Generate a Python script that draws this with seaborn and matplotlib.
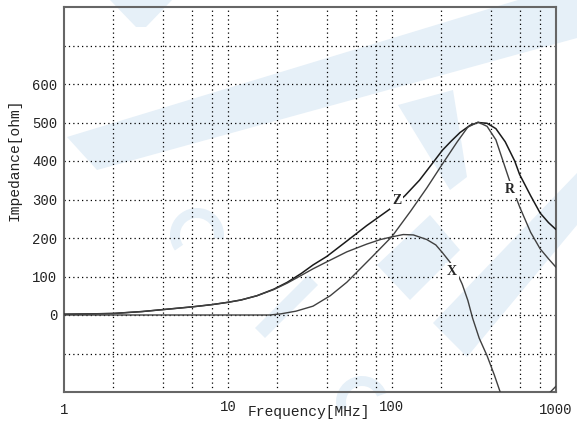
import pandas as pd
import matplotlib
matplotlib.use("Agg")
import matplotlib.pyplot as plt
import matplotlib.transforms as mtransforms
from matplotlib.patches import Polygon, Wedge
import seaborn as sns

# Impedance |Z|, resistance R and reactance X of a ferrite bead versus frequency
z_freq = [1, 1.5, 2, 3, 4, 6, 8, 10, 12, 15, 19, 23, 28, 33, 40, 53, 70, 97, 120, 147, 175, 203, 230, 260,
          300, 335, 380, 430, 490, 560, 600, 700, 800, 900, 1000]
z_ohm = [2, 3, 4, 9, 14, 21, 27, 33, 39, 50, 67, 85, 108, 130, 152, 192, 232, 275, 310, 350, 392, 428, 452, 474,
         493, 500, 498, 484, 450, 400, 365, 310, 265, 240, 222]

r_freq = [1, 5, 10, 18, 21, 26, 33, 42, 53, 76, 100, 130, 163, 200, 250, 290, 335, 380, 430, 520, 600, 700,
          800, 900, 1000]
r_ohm = [0, 0, 0, 0, 3, 10, 23, 50, 85, 152, 204, 270, 330, 388, 450, 488, 501, 490, 455, 350, 281, 215,
         172, 146, 124]

x_freq = [1, 1.5, 2, 3, 4, 6, 8, 10, 12, 15, 19, 23, 28, 33, 40, 53, 70, 85, 100, 117, 135, 163, 185, 203,
          225, 250, 268, 290, 310, 340, 380, 420, 455, 520, 900, 1000]
x_ohm = [2, 3, 4, 9, 14, 21, 27, 33, 39, 50, 66, 83, 103, 120, 138, 164, 184, 196, 203, 209, 208, 196, 182, 162,
         138, 108, 80, 38, -8, -60, -106, -155, -198, -260, -205, -185]

y_ticks = [0, 100, 200, 300, 400, 500, 600]
y_grid = [-100, 0, 100, 200, 300, 400, 500, 600, 700]
x_grid = [2, 4, 6, 8, 10, 20, 40, 60, 80, 100, 200, 400, 600, 800]
x_ticks = [1, 10, 100, 1000]
x_tick_labels = ["1", "10", "100", "1000"]

sns.set_theme(style="white")
plt.rcParams["font.family"] = ["Liberation Mono", "DejaVu Sans Mono"]

W, H = 577, 421
fig = plt.figure(figsize=(W / 100, H / 100), dpi=100)
fig.patch.set_facecolor("white")

# faint background emblem, in pixel coordinates (y measured from the top)
pix = mtransforms.IdentityTransform()
mark = "#e6f0f8"


def top_pts(pts):
    return [(x, H - y) for x, y in pts]


shapes = [
    [(110, 0), (172, 0), (146, 27), (136, 27)],
    [(67, 137), (518, 0), (577, 0), (577, 38), (97, 170)],
    [(398, 105), (453, 90), (467, 177), (450, 190)],
    [(377, 265), (430, 215), (460, 250), (410, 300)],
    [(433, 323), (577, 173), (577, 225), (467, 357)],
    [(255, 328), (308, 275), (318, 285), (265, 338)],
]
for s in shapes:
    fig.patches.append(Polygon(top_pts(s), closed=True, transform=pix, fc=mark, ec="none", zorder=-5))
fig.patches.append(Wedge((197, H - 235), 27, -10, 215, width=10, transform=pix, fc=mark, ec="none", zorder=-5))
fig.patches.append(Wedge((362, H - 402), 26, 20, 200, width=10, transform=pix, fc=mark, ec="none", zorder=-5))

ax = fig.add_axes([64 / W, 1 - 392 / H, 492 / W, 385 / H])
ax.set_facecolor("none")
ax.set_zorder(1)

curves = pd.concat([
    pd.DataFrame({"freq": z_freq, "ohm": z_ohm, "curve": "Z"}),
    pd.DataFrame({"freq": r_freq, "ohm": r_ohm, "curve": "R"}),
    pd.DataFrame({"freq": x_freq, "ohm": x_ohm, "curve": "X"}),
])
palette = {"Z": "#1a1a1a", "R": "#404040", "X": "#404040"}
widths = {"Z": 1.1, "R": 1.0, "X": 1.0}
for name, grp in curves.groupby("curve", sort=False):
    sns.lineplot(data=grp, x="freq", y="ohm", ax=ax, color=palette[name],
                 lw=widths[name], sort=False, legend=False, zorder=3)

ax.set_xscale("log")
ax.set_xlim(1, 1000)
ax.set_ylim(-200, 800)

# dotted grid
for gx in x_grid:
    ax.axvline(gx, color="black", lw=0.9, ls=(0, (1, 2.5)), zorder=1)
for gy in y_grid:
    ax.axhline(gy, color="black", lw=0.9, ls=(0, (1, 2.5)), zorder=1)

ax.set_yticks(y_ticks)
ax.set_yticklabels([str(v) for v in y_ticks], fontsize=10)
ax.set_xticks(x_ticks)
ax.set_xticklabels(x_tick_labels, fontsize=10)
ax.xaxis.set_minor_locator(matplotlib.ticker.NullLocator())
ax.tick_params(axis="both", length=0, colors="#222222")
ax.tick_params(axis="y", pad=5)
ax.tick_params(axis="x", pad=8)

# the 10 and 100 labels sit a little higher
for lbl in ax.get_xticklabels():
    if lbl.get_text() in ("10", "100"):
        lbl.set_transform(lbl.get_transform() + mtransforms.ScaledTranslation(0, 3 / 100, fig.dpi_scale_trans))

ax.set_xlabel("")
ax.set_ylabel("")
fig.text(309 / W, 1 - 412 / H, "Frequency[MHz]", ha="center", va="center", fontsize=10.5, color="#222222")
fig.text(15 / W, 1 - 160 / H, "Impedance[ohm]", ha="center", va="center", rotation=90, fontsize=10.5, color="#222222")

for sp in ax.spines.values():
    sp.set_color("#666666")
    sp.set_linewidth(1.5)

# curve names
lab_kw = dict(fontsize=10, fontweight="bold", family="Liberation Serif", ha="center", va="center", zorder=4,
              bbox=dict(boxstyle="square,pad=0.15", fc="white", ec="none"))
ax.text(107, 298, "Z", **lab_kw)
ax.text(520, 325, "R", **lab_kw)
ax.text(232, 113, "X", **lab_kw)

fig.savefig("out.png", dpi=100)
